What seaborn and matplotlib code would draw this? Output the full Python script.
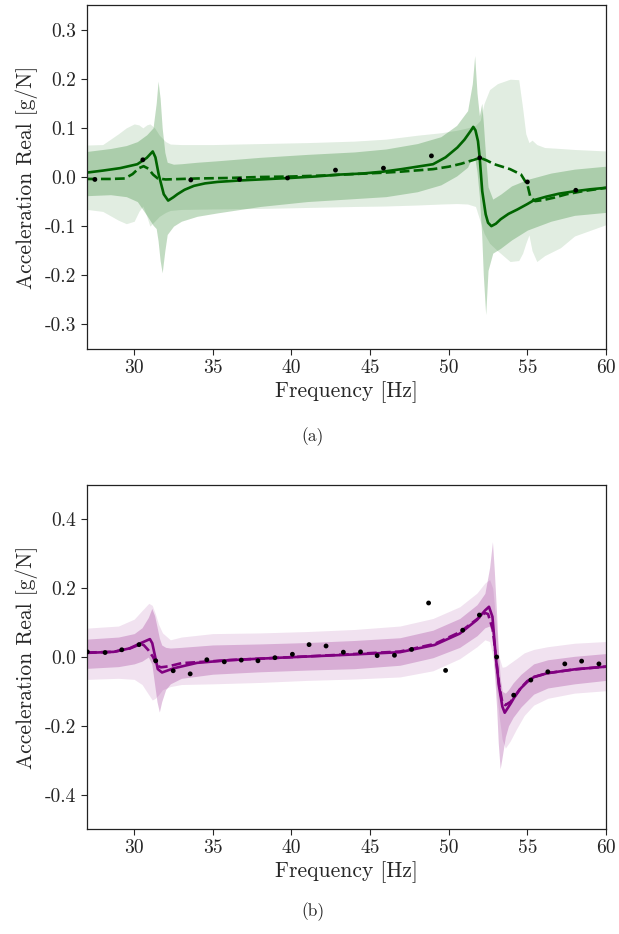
import matplotlib
matplotlib.use("Agg")
import matplotlib.pyplot as plt
import seaborn as sns
import numpy as np

# ---------------- Panel (a) data ----------------
a_solid_f = [27.0, 28.0, 29.1, 30.2, 30.8, 31.18, 31.35, 31.56, 31.88, 32.16, 32.5, 32.75, 33.2, 33.8, 34.5,
             35.3, 36.75, 38.0, 39.9, 41.5, 43.1, 44.5, 45.85, 47.0, 48.0, 49.0, 49.8, 50.55, 51.0, 51.4,
             51.56, 51.7, 51.86, 51.97, 52.13, 52.35, 52.5, 52.71, 53.0, 53.3, 53.8, 54.37, 55.0, 55.43,
             56.2, 57.0, 58.0, 59.0, 60.0]
a_solid_v = [0.009, 0.013, 0.018, 0.026, 0.039, 0.052, 0.040, 0.005, -0.035, -0.048, -0.041, -0.035, -0.026,
             -0.018, -0.013, -0.010, -0.007, -0.005, -0.002, 0.001, 0.005, 0.007, 0.011, 0.016, 0.021, 0.026,
             0.040, 0.060, 0.076, 0.094, 0.102, 0.095, 0.073, 0.039, -0.029, -0.076, -0.093, -0.100, -0.095,
             -0.086, -0.075, -0.066, -0.055, -0.047, -0.040, -0.034, -0.029, -0.025, -0.022]

a_dash_f = [27.0, 28.5, 29.4, 29.9, 30.3, 30.6, 30.9, 31.2, 31.5, 32.0, 34.0, 36.0, 38.0, 40.0, 42.0, 44.0,
            46.0, 47.0, 49.0, 50.0, 50.8, 51.4, 52.0, 52.4, 52.9, 53.9, 54.6, 54.85, 55.0, 55.2, 55.5, 56.0,
            56.7, 57.5, 58.5, 60.0]
a_dash_v = [-0.004, -0.004, -0.003, 0.006, 0.018, 0.022, 0.017, 0.005, -0.003, -0.005, -0.003, -0.002, 0.000,
            0.001, 0.003, 0.006, 0.009, 0.011, 0.016, 0.021, 0.027, 0.033, 0.039, 0.034, 0.026, 0.016, 0.005,
            -0.008, -0.015, -0.042, -0.049, -0.047, -0.042, -0.035, -0.029, -0.022]

a_dark_f = [27.0, 28.5, 29.5, 30.2, 30.8, 31.2, 31.4, 31.52, 31.65, 31.78, 31.95, 32.1, 32.5, 33.0, 34.0,
            35.3, 38.0, 41.0, 44.0, 46.0, 48.0, 49.5, 50.5, 51.2, 51.5, 51.65, 51.8, 51.95, 52.1, 52.2,
            52.35, 52.5, 52.8, 53.3, 54.0, 55.0, 56.5, 58.0, 60.0]
a_dark_hi = [0.052, 0.058, 0.064, 0.072, 0.086, 0.100, 0.150, 0.195, 0.160, 0.100, 0.050, 0.030, 0.026, 0.027,
             0.030, 0.033, 0.040, 0.046, 0.051, 0.057, 0.068, 0.082, 0.105, 0.135, 0.190, 0.247, 0.170, 0.125,
             0.150, 0.110, 0.040, -0.020, -0.045, -0.035, -0.018, -0.005, 0.008, 0.016, 0.022]
a_dark_lo = [-0.038, -0.036, -0.040, -0.050, -0.078, -0.098, -0.105, -0.130, -0.170, -0.195, -0.150,
             -0.117, -0.100, -0.090, -0.080, -0.073, -0.060, -0.050, -0.044, -0.040, -0.030, -0.016, 0.002,
             0.020, 0.040, 0.040, 0.010, -0.040, -0.120, -0.200, -0.280, -0.190, -0.155, -0.145, -0.128,
             -0.108, -0.090, -0.078, -0.072]

a_light_f = [27.0, 28.0, 29.0, 29.5, 30.0, 30.3, 30.55, 30.8, 31.0, 31.3, 31.6, 32.0, 32.3, 33.0, 35.0,
             38.0, 41.0, 44.0, 46.0, 48.0, 49.5, 50.5, 51.2, 51.7, 52.0, 52.25, 52.6, 53.1, 53.9, 54.45,
             54.7, 54.9, 55.1, 55.3, 55.6, 56.1, 57.1, 58.0, 60.0]
a_light_hi = [0.065, 0.066, 0.088, 0.100, 0.108, 0.106, 0.100, 0.106, 0.108, 0.100, 0.085, 0.072, 0.067,
              0.066, 0.066, 0.068, 0.070, 0.073, 0.077, 0.085, 0.090, 0.095, 0.100, 0.105, 0.115, 0.150,
              0.178, 0.190, 0.199, 0.198, 0.140, 0.088, 0.070, 0.075, 0.066, 0.060, 0.058, 0.056, 0.053]
a_light_lo = [-0.066, -0.070, -0.088, -0.095, -0.090, -0.070, -0.059, -0.080, -0.100, -0.090, -0.080,
              -0.072, -0.068, -0.066, -0.065, -0.064, -0.062, -0.060, -0.059, -0.057, -0.055, -0.054,
              -0.055, -0.060, -0.090, -0.115, -0.135, -0.150, -0.172, -0.170, -0.155, -0.135, -0.118,
              -0.150, -0.172, -0.160, -0.144, -0.120, -0.097]

a_pts_f = [27.5, 30.55, 33.6, 36.7, 39.75, 42.8, 45.85, 48.9, 51.97, 55.0, 58.08]
a_pts_v = [-0.005, 0.035, -0.006, -0.005, -0.002, 0.014, 0.018, 0.043, 0.039, -0.010, -0.027]

# ---------------- Panel (b) data ----------------
b_solid_f = [27.0, 28.7, 29.7, 30.4, 31.0, 31.15, 31.3, 31.5, 31.77, 32.5, 34.0, 36.1, 39.3, 43.3, 46.9,
             49.1, 50.7, 51.8, 52.3, 52.56, 52.78, 52.99, 53.2, 53.41, 53.56, 53.94, 54.16, 54.58, 55.0,
             55.43, 56.28, 57.98, 60.0]
b_solid_v = [0.012, 0.015, 0.025, 0.040, 0.052, 0.040, 0.008, -0.035, -0.045, -0.033, -0.017, -0.009,
             -0.002, 0.006, 0.014, 0.035, 0.068, 0.108, 0.135, 0.146, 0.117, 0.001, -0.086, -0.144, -0.162,
             -0.135, -0.118, -0.091, -0.072, -0.058, -0.047, -0.036, -0.028]

b_dash_f = [27.0, 28.7, 29.74, 30.38, 30.6, 30.9, 31.2, 31.45, 31.7, 32.2, 33.0, 34.0, 36.1, 39.3, 43.3,
            46.9, 49.1, 50.7, 51.8, 52.3, 52.5, 52.8, 53.0, 53.2, 53.4, 53.6, 53.94, 54.58, 55.0, 55.43,
            56.28, 57.98, 60.0]
b_dash_v = [0.013, 0.015, 0.025, 0.037, 0.035, 0.020, 0.000, -0.025, -0.030, -0.027, -0.018, -0.015,
            -0.009, -0.002, 0.007, 0.016, 0.038, 0.072, 0.110, 0.128, 0.125, 0.080, 0.000, -0.080, -0.130,
            -0.140, -0.130, -0.090, -0.070, -0.058, -0.047, -0.036, -0.028]

b_dark_f = [27.0, 29.0, 30.0, 30.5, 30.9, 31.12, 31.3, 31.45, 31.6, 31.75, 32.0, 32.3, 33.0, 35.0, 38.0,
            41.0, 44.0, 46.9, 49.0, 50.7, 51.8, 52.3, 52.6, 52.78, 52.9, 53.05, 53.15, 53.27, 53.4, 53.6,
            53.8, 54.1, 54.6, 55.4, 56.3, 58.0, 60.0]
b_dark_hi = [0.052, 0.058, 0.068, 0.085, 0.115, 0.141, 0.120, 0.088, 0.055, 0.035, 0.028, 0.026, 0.028,
             0.035, 0.038, 0.042, 0.048, 0.056, 0.078, 0.112, 0.152, 0.185, 0.260, 0.335, 0.250, 0.120,
             0.020, -0.060, -0.100, -0.105, -0.095, -0.075, -0.050, -0.020, -0.008, 0.002, 0.010]
b_dark_lo = [-0.033, -0.028, -0.020, -0.012, 0.000, -0.020, -0.080, -0.130, -0.160, -0.130, -0.095, -0.078,
             -0.062, -0.050, -0.043, -0.038, -0.034, -0.024, -0.002, 0.028, 0.062, 0.085, 0.090, 0.060,
             -0.040, -0.150, -0.250, -0.325, -0.290, -0.232, -0.200, -0.175, -0.145, -0.108, -0.090,
             -0.078, -0.068]

b_light_f = [27.0, 29.0, 30.0, 30.5, 30.93, 31.15, 31.35, 31.55, 31.8, 32.3, 33.0, 35.0, 38.0, 41.0, 44.0,
             46.9, 49.0, 50.7, 51.8, 52.3, 52.6, 52.8, 53.0, 53.2, 53.4, 53.6, 53.9, 54.3, 54.8, 55.4, 56.3,
             58.0, 60.0]
b_light_hi = [0.084, 0.090, 0.110, 0.135, 0.156, 0.150, 0.125, 0.095, 0.070, 0.050, 0.058, 0.068, 0.070,
              0.074, 0.080, 0.090, 0.112, 0.146, 0.186, 0.215, 0.225, 0.200, 0.100, 0.000, -0.030, -0.028,
              -0.018, -0.005, 0.012, 0.022, 0.030, 0.040, 0.045]
b_light_lo = [-0.065, -0.062, -0.065, -0.080, -0.110, -0.125, -0.120, -0.110, -0.095, -0.086, -0.080,
              -0.078, -0.074, -0.068, -0.064, -0.058, -0.040, -0.005, 0.030, 0.050, 0.045, 0.000, -0.080,
              -0.170, -0.240, -0.265, -0.245, -0.210, -0.170, -0.140, -0.120, -0.105, -0.098]

b_pts_f = [27.02, 28.15, 29.21, 30.31, 31.37, 32.48, 33.56, 34.62, 35.73, 36.81, 37.87, 38.95, 40.06,
           41.12, 42.2, 43.3, 44.39, 45.45, 46.55, 47.64, 48.72, 49.8, 50.89, 51.95, 53.05, 54.13, 55.22,
           56.3, 57.38, 58.45, 59.55]
b_pts_v = [0.015, 0.013, 0.021, 0.036, -0.011, -0.040, -0.049, -0.008, -0.014, -0.009, -0.011, -0.002,
           0.008, 0.036, 0.032, 0.014, 0.015, 0.004, 0.005, 0.022, 0.157, -0.039, 0.078, 0.122, 0.000,
           -0.111, -0.067, -0.043, -0.020, -0.012, -0.020]

a_yticks = [-0.3, -0.2, -0.1, 0.0, 0.1, 0.2, 0.3]
b_yticks = [-0.4, -0.2, 0.0, 0.2, 0.4]
xticks = [30, 35, 40, 45, 50, 55, 60]

# ---------------- style ----------------
sns.set_style("ticks")
plt.rcParams["font.family"] = ["cmr10", "DejaVu Serif"]
plt.rcParams["axes.unicode_minus"] = False
plt.rcParams["mathtext.fontset"] = "cm"
plt.rcParams["axes.formatter.use_mathtext"] = False

fig = plt.figure(figsize=(6.19, 9.34), dpi=100)
ax1 = fig.add_axes([87 / 619, 1 - 349 / 934, (606 - 87) / 619, 344 / 934])
ax2 = fig.add_axes([87 / 619, 1 - 829 / 934, (606 - 87) / 619, 344 / 934])


def draw(ax, col, fcol, lf, lhi, llo, df, dhi, dlo, sf, sv, hf, hv, pf, pv, ylim, yticks, ytl, la, da):
    ax.fill_between(lf, llo, lhi, color=fcol, alpha=la, lw=0)
    ax.fill_between(df, dlo, dhi, color=fcol, alpha=da, lw=0)
    sns.lineplot(x=sf, y=sv, ax=ax, color=col, lw=1.9, sort=False)
    sns.lineplot(x=hf, y=hv, ax=ax, color=col, lw=1.9, linestyle="--", sort=False)
    sns.scatterplot(x=pf, y=pv, ax=ax, color="black", s=12, edgecolor="none", zorder=5)
    ax.set_xlim(27, 60)
    ax.set_ylim(*ylim)
    ax.set_xticks(xticks)
    ax.set_xticklabels([str(t) for t in xticks])
    ax.set_yticks(yticks)
    ax.set_yticklabels(ytl)
    ax.set_xlabel("Frequency [Hz]", fontsize=15.5, labelpad=3)
    ax.set_ylabel("Acceleration Real [g/N]", fontsize=15.5, labelpad=5)
    ax.tick_params(labelsize=14, direction="out", length=4, width=0.8)
    for s in ax.spines.values():
        s.set_visible(True)
        s.set_linewidth(0.9)
        s.set_color("#222222")


draw(ax1, "#006400", "#0a700a", a_light_f, a_light_hi, a_light_lo, a_dark_f, a_dark_hi, a_dark_lo,
     a_solid_f, a_solid_v, a_dash_f, a_dash_v, a_pts_f, a_pts_v, (-0.35, 0.35), a_yticks,
     ["%.1f" % t for t in a_yticks], 0.12, 0.25)
draw(ax2, "#800080", "#8e1486", b_light_f, b_light_hi, b_light_lo, b_dark_f, b_dark_hi, b_dark_lo,
     b_solid_f, b_solid_v, b_dash_f, b_dash_v, b_pts_f, b_pts_v, (-0.5, 0.5), b_yticks,
     ["%.1f" % t for t in b_yticks], 0.12, 0.25)

fig.text(313 / 619, 1 - 437 / 934, "(a)", ha="center", va="center", fontsize=12.5)
fig.text(313 / 619, 1 - 912 / 934, "(b)", ha="center", va="center", fontsize=12.5)

fig.savefig("out.png", dpi=100)
